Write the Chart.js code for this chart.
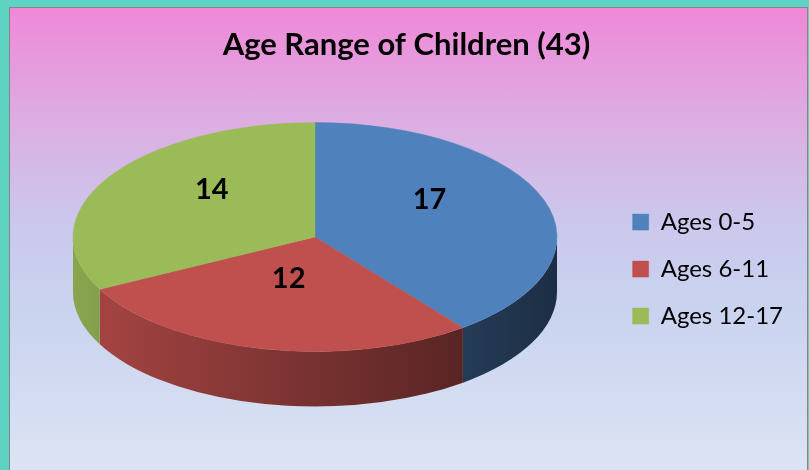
<!DOCTYPE html>
<html>
<head>
<meta charset="utf-8">
<script src="https://cdn.jsdelivr.net/npm/chart.js@4.4.1/dist/chart.umd.min.js"></script>
<style>
  html, body { margin: 0; padding: 0; }
  body { width: 809px; height: 470px; background: #5fd3c1; position: relative; overflow: hidden; }
  #panel {
    position: absolute; left: 9px; top: 7px; width: 797px; height: 480px;
    border: 1px solid #858585;
    background: linear-gradient(to bottom, #ef88d8 0px, #dcaee2 115px, #cbc7ec 210px, #c9d3ef 300px, #dde4f4 470px);
  }
  #wrap { position: absolute; left: 0; top: 0; width: 809px; height: 470px; }
</style>
</head>
<body>
<div id="panel"></div>
<div id="wrap"><canvas id="pie"></canvas></div>
<script>
/* ── Data ── */
const categories = ['Ages 0-5', 'Ages 6-11', 'Ages 12-17'];
const counts = [17, 12, 14];
const sliceColors = ['#4f81bd', '#c0504d', '#9bbb59'];
const titleText = 'Age Range of Children (43)';

/* ── 3D look: where the tilted disc sits ── */
const CX = 315, CY = 237;      // ellipse centre
const RX = 242, RY = 114.5;    // ellipse radii
const DEPTH = 55;              // side wall height
const LIFT = 19;               // fake perspective for labels
const FONT = "Lato, 'Open Sans', sans-serif";

function shade(hex, k) {
    const n = parseInt(hex.slice(1), 16);
    const r = Math.round(((n >> 16) & 255) * k);
    const g = Math.round(((n >> 8) & 255) * k);
    const b = Math.round((n & 255) * k);
    return `rgb(${r},${g},${b})`;
}

const tiltPlugin = {
    id: 'tilt3d',
    beforeDatasetsDraw(chart) {
        const ctx = chart.ctx;
        const meta = chart.getDatasetMeta(0);
        const first = meta.data[0];
        if (!first) return;

        // side walls (front half only: angles 0..PI)
        meta.data.forEach((arc, i) => {
            const a0 = Math.max(arc.startAngle, 0);
            const a1 = Math.min(arc.endAngle, Math.PI);
            if (a1 <= a0) return;
            const grad = ctx.createLinearGradient(CX - RX, 0, CX + RX, 0);
            grad.addColorStop(0, shade(sliceColors[i], 0.88));
            grad.addColorStop(1, shade(sliceColors[i], 0.36));
            ctx.save();
            ctx.beginPath();
            ctx.ellipse(CX, CY, RX, RY, 0, a0, a1, false);
            ctx.ellipse(CX, CY + DEPTH, RX, RY, 0, a1, a0, true);
            ctx.closePath();
            ctx.fillStyle = grad;
            ctx.fill();
            ctx.restore();
        });

        // squash the flat pie onto the ellipse
        ctx.save();
        ctx.translate(CX, CY);
        ctx.scale(RX / first.outerRadius, RY / first.outerRadius);
        ctx.translate(-first.x, -first.y);
    },
    afterDatasetsDraw(chart) {
        const ctx = chart.ctx;
        const meta = chart.getDatasetMeta(0);
        if (!meta.data[0]) return;
        ctx.restore();

        ctx.save();
        ctx.font = `bold 29px ${FONT}`;
        ctx.fillStyle = '#000';
        ctx.textAlign = 'center';
        ctx.textBaseline = 'middle';
        meta.data.forEach((arc, i) => {
            const mid = (arc.startAngle + arc.endAngle) / 2;
            const u = Math.cos(mid) * 0.5;
            const v = Math.sin(mid) * 0.5;
            const x = CX + RX * u;
            const y = CY + RY * v - LIFT * (1 - v * v);
            ctx.fillText(String(counts[i]), x, y);
        });
        ctx.restore();
    }
};

new Chart(document.getElementById('pie'), {
    type: 'pie',
    data: {
        labels: categories,
        datasets: [{
            data: counts,
            backgroundColor: sliceColors,
            borderColor: sliceColors,
            borderWidth: 0.5,
            clip: false
        }]
    },
    options: {
        responsive: true,
        maintainAspectRatio: false,
        animation: false,
        events: [],
        layout: { padding: { left: 20, right: 16, top: 0, bottom: 0 } },
        plugins: {
            title: {
                display: true,
                text: titleText,
                color: '#000',
                font: { family: FONT, size: 31, weight: 'bold' },
                padding: { top: 26, bottom: 5 }
            },
            legend: {
                position: 'right',
                fullSize: false,
                labels: {
                    color: '#000',
                    font: { family: FONT, size: 24 },
                    boxWidth: 16,
                    boxHeight: 16,
                    padding: 23
                }
            },
            tooltip: { enabled: false }
        }
    },
    plugins: [tiltPlugin]
});
</script>
</body>
</html>
